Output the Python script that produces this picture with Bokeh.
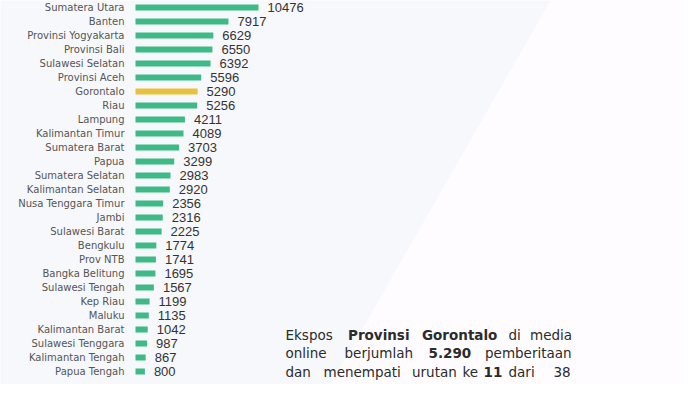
from bokeh.plotting import figure
from bokeh.models import Range1d, PolyAnnotation, ColumnDataSource
from bokeh.core.properties import value
from bokeh.embed import file_html
from bokeh.resources import INLINE

# ---------------- data ----------------
provinces = ["Sumatera Utara", "Banten", "Provinsi Yogyakarta", "Provinsi Bali",
             "Sulawesi Selatan", "Provinsi Aceh", "Gorontalo", "Riau", "Lampung",
             "Kalimantan Timur", "Sumatera Barat", "Papua", "Sumatera Selatan",
             "Kalimantan Selatan", "Nusa Tenggara Timur", "Jambi", "Sulawesi Barat",
             "Bengkulu", "Prov NTB", "Bangka Belitung", "Sulawesi Tengah", "Kep Riau",
             "Maluku", "Kalimantan Barat", "Sulawesi Tenggara", "Kalimantan Tengah",
             "Papua Tengah"]
counts = [10476, 7917, 6629, 6550, 6392, 5596, 5290, 5256, 4211, 4089, 3703, 3299,
          2983, 2920, 2356, 2316, 2225, 1774, 1741, 1695, 1567, 1199, 1135, 1042,
          987, 867, 800]
highlight = "Gorontalo"

# paragraph: (word, bold) per line
para_lines = [
    [("Ekspos", False), ("Provinsi", True), ("Gorontalo", True), ("di", False), ("media", False)],
    [("online", False), ("berjumlah", False), ("5.290", True), ("pemberitaan", False)],
    [("dan", False), ("menempati", False), ("urutan", False), ("ke", False), ("11", True),
     ("dari", False), ("38", False)],
]

# ---------------- layout ----------------
W, H = 684, 384
BAR_X0 = 135                 # px where bars start
PX_PER = 123 / 10476         # px per unit
ROW0, ROW_H = 7, 14.0        # px of first row centre, row pitch
GREEN, GOLD = "#3dba86", "#e8c13e"

# word start x (px) and baseline y (px) for the justified paragraph
para_x = [
    [285, 347.5, 421.5, 508, 529.5],
    [285, 344, 428, 484.5],
    [285, 323, 411.5, 462, 483, 508, 553],
]
para_y = [334, 352.5, 371]

p = figure(width=W, height=H, output_backend="svg", toolbar_location=None,
           x_range=Range1d(0, W), y_range=Range1d(H, 0), min_border=0)
p.axis.visible = False
p.grid.visible = False
p.outline_line_color = None
p.background_fill_color = "#fefcfe"
p.border_fill_color = "#fefcfe"

p.add_layout(PolyAnnotation(xs=[0, 550, 330, 0], ys=[0, 0, H, H],
                            fill_color="#f7f8fb", fill_alpha=1, line_color=None,
                            level="underlay"))

p.extra_x_ranges = {"val": Range1d(-BAR_X0 / PX_PER, (W - BAR_X0) / PX_PER)}
p.extra_y_ranges = {"row": Range1d((H - ROW0) / ROW_H, -ROW0 / ROW_H)}

src = ColumnDataSource(dict(
    row=list(range(len(provinces))),
    name=provinces,
    count=counts,
    label=[str(c) for c in counts],
    color=[GOLD if n == highlight else GREEN for n in provinces],
))

p.hbar(y="row", left=0, right="count", height=0.42, fill_color="color",
       line_color=None, source=src, x_range_name="val", y_range_name="row")

p.text(x=0, y="row", text="name", source=src, x_offset=-11,
       text_align="right", text_baseline="middle",
       text_font=value("DejaVu Sans"), text_font_size="10px", text_color="#555555",
       x_range_name="val", y_range_name="row")

p.text(x="count", y="row", text="label", source=src, x_offset=9,
       text_align="left", text_baseline="middle",
       text_font=value("Liberation Sans"), text_font_size="13px", text_color="#333333",
       x_range_name="val", y_range_name="row")

for words, xs, y in zip(para_lines, para_x, para_y):
    for (w, bold), x in zip(words, xs):
        p.text(x=[x], y=[y], text=[w], text_align="left", text_baseline="alphabetic",
               text_font=value("DejaVu Sans"), text_font_size="13.5px",
               text_font_style="bold" if bold else "normal", text_color="#2b2b2b")

open("out.html", "w").write(file_html(p, INLINE))
